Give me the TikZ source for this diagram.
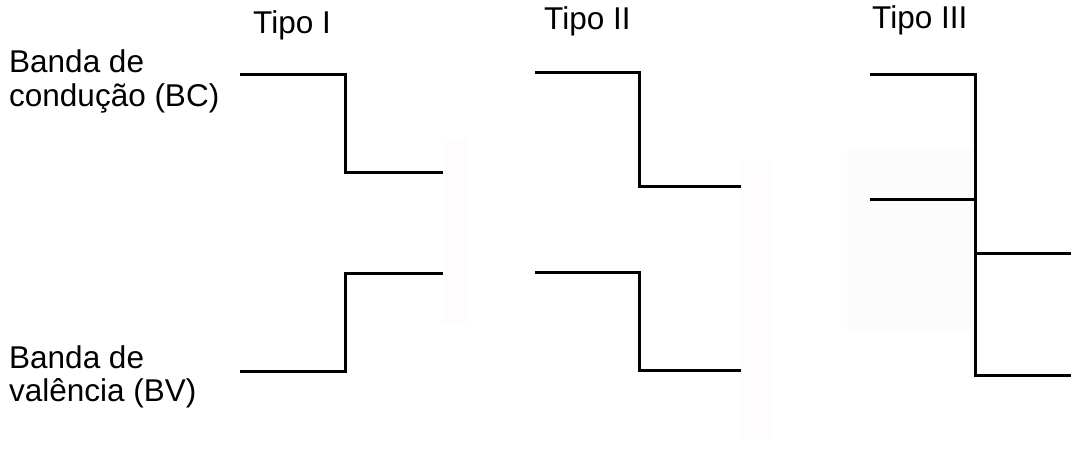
\documentclass[tikz,border=0pt]{standalone}
\usepackage{fontspec}
\setmainfont{Liberation Sans}
\definecolor{faintpink}{RGB}{254,252,252}
\definecolor{faintgray}{RGB}{252,252,252}
\begin{document}
\begin{tikzpicture}[x=1pt,y=-1pt,
  band/.style={line width=3pt,line join=miter,line cap=butt},
  lbl/.style={anchor=base west,inner sep=0pt,font=\fontsize{31.5}{36}\selectfont}]
\useasboundingbox (0,0) rectangle (1073,450);
% faint background patches
\fill[faintpink] (442,138) rectangle (467,325);
\fill[faintpink] (741,161) rectangle (773,440);
\fill[faintgray] (847,147) rectangle (973,330);
% labels
\node[lbl] (t1) at (253,33) {Tipo I};
\node[lbl] (t2) at (544,29) {Tipo II};
\node[lbl] (t3) at (872,28) {Tipo III};
\node[lbl] (bc1) at (9,72) {Banda de};
\node[lbl] (bc2) at (9,106) {condução (BC)};
\node[lbl] (bv1) at (9,368) {Banda de};
\node[lbl] (bv2) at (9,401) {valência (BV)};
% Tipo I
\coordinate (a1) at (240,74);
\coordinate (a2) at (443,172);
\coordinate (a3) at (240,371);
\coordinate (a4) at (443,273);
\draw[band] (a1) -| (345,172) -- (a2);
\draw[band] (a3) -| (345,273) -- (a4);
% Tipo II
\coordinate (b1) at (535,72);
\coordinate (b2) at (741,186);
\coordinate (b3) at (535,272);
\coordinate (b4) at (741,370);
\draw[band] (b1) -| (639,186) -- (b2);
\draw[band] (b3) -| (639,370) -- (b4);
% Tipo III
\coordinate (c1) at (870,74);
\coordinate (c2) at (870,199);
\coordinate (c3) at (1071,253);
\coordinate (c4) at (1071,375);
\draw[band] (c1) -| (975,375) -- (c4);
\draw[band] (c2) -- (975,199);
\draw[band] (975,253) -- (c3);
\end{tikzpicture}
\end{document}
